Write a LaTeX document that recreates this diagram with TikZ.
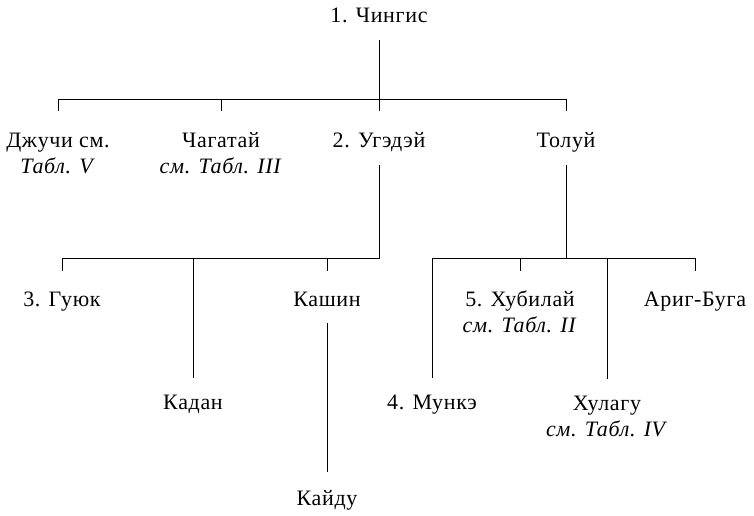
\documentclass[tikz,border=0pt]{standalone}
\usepackage{fontspec}
\setmainfont{Liberation Serif}[LetterSpace=3]
\usetikzlibrary{positioning,calc}

\begin{document}
\begin{tikzpicture}[
    x=1pt, y=-1pt,
    persona/.style={font=\fontsize{22}{26}\selectfont, align=center,
                    inner sep=0pt, anchor=base},
    linea/.style={line width=0.9pt, black}
]
\useasboundingbox (0,0) rectangle (754,515);

\node[persona] (chingis)  at (379,22)  {1. Чингис};

\node[persona] (juchi)    at (58,173)  {Джучи см.\\\textit{Табл. V}};
\node[persona] (chagatai) at (221,173) {Чагатай\\\textit{см. Табл. III}};
\node[persona] (ugedei)   at (379,147) {2. Угэдэй};
\node[persona] (tolui)    at (566,147) {Толуй};

\node[persona] (guyuk)    at (62,306)  {3. Гуюк};
\node[persona] (kadan)    at (193,409) {Кадан};
\node[persona] (kashin)   at (327,306) {Кашин};
\node[persona] (kaidu)    at (327,505) {Кайду};

\node[persona] (munke)    at (432,409) {4. Мункэ};
\node[persona] (khubilai) at (520,332) {5. Хубилай\\\textit{см. Табл. II}};
\node[persona] (khulagu)  at (607,436) {Хулагу\\\textit{см. Табл. IV}};
\node[persona] (arigbuga) at (695,306) {Ариг-Буга};

\coordinate (bar1) at (0,99);
\coordinate (bar2) at (0,258);

\draw[linea] ([yshift=-18pt]chingis.base) -- ([yshift=36pt]ugedei.base);
\draw[linea] ([yshift=62pt]juchi.base) |- (tolui |- bar1) -- ([yshift=36pt]tolui.base);
\draw[linea] (chagatai |- bar1) -- ([yshift=62pt]chagatai.base);

\draw[linea] ([yshift=-18pt]ugedei.base) |- (guyuk |- bar2) -- ([yshift=35pt]guyuk.base);
\draw[linea] (kadan |- bar2) -- ([yshift=31pt]kadan.base);
\draw[linea] (kashin |- bar2) -- ([yshift=35pt]kashin.base);
\draw[linea] ([yshift=-17pt]kashin.base) -- ([yshift=33pt]kaidu.base);

\draw[linea] ([yshift=-18pt]tolui.base) -- (tolui |- bar2);
\draw[linea] ([yshift=31pt]munke.base) |- (arigbuga |- bar2) -- ([yshift=35pt]arigbuga.base);
\draw[linea] (khubilai |- bar2) -- ([yshift=61pt]khubilai.base);
\draw[linea] (khulagu |- bar2) -- ([yshift=57pt]khulagu.base);

\end{tikzpicture}
\end{document}
